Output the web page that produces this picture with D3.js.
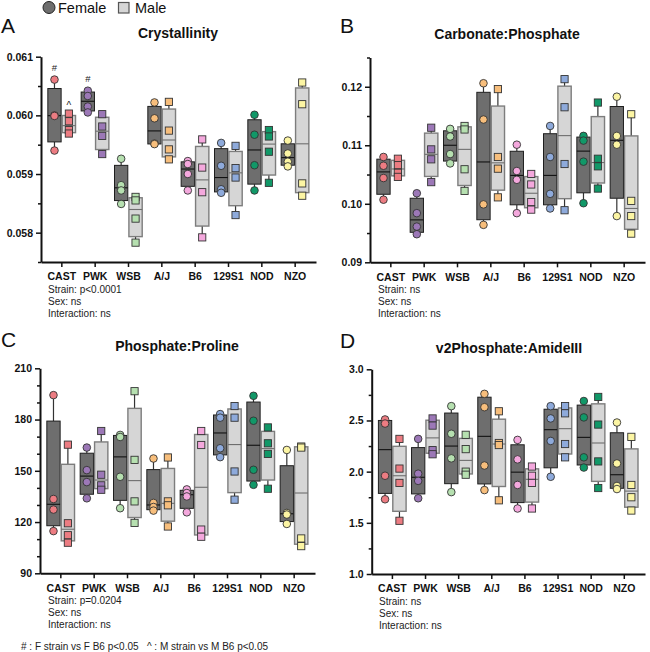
<!DOCTYPE html>
<html>
<head>
<meta charset="utf-8">
<script src="https://cdn.jsdelivr.net/npm/d3@7"></script>
<style>
  body { margin: 0; background: #fff; }
  svg { font-family: "Liberation Sans", Arial, sans-serif; }
</style>
</head>
<body>
<div id="chart"></div>
<script>
const strains = ['CAST', 'PWK', 'WSB', 'A/J', 'B6', '129S1', 'NOD', 'NZO'];
const strainColors = ['#ec7c82', '#9c78b7', '#b6e0b0', '#f7be7c', '#f4a8dd', '#8eaadb', '#119868', '#fcf5a3'];

// four animals per strain and sex
const crystF = [
  [0.06061, 0.06000, 0.05999, 0.05940], [0.06042, 0.06033, 0.06015, 0.06005],
  [0.05926, 0.05881, 0.05872, 0.05849], [0.06022, 0.05995, 0.05952, 0.05951],
  [0.05922, 0.05917, 0.05900, 0.05872], [0.05953, 0.05914, 0.05874, 0.05868],
  [0.06001, 0.05967, 0.05915, 0.05872], [0.05957, 0.05935, 0.05921, 0.05913]
];
const crystM = [
  [0.06003, 0.05990, 0.05975, 0.05969], [0.06002, 0.05981, 0.05965, 0.05934],
  [0.05861, 0.05855, 0.05824, 0.05783], [0.06023, 0.05974, 0.05942, 0.05925],
  [0.05959, 0.05911, 0.05869, 0.05792], [0.05948, 0.05910, 0.05894, 0.05830],
  [0.05975, 0.05964, 0.05938, 0.05885], [0.06056, 0.06019, 0.05884, 0.05863]
];
const carbF = [
  [0.1080, 0.1065, 0.1044, 0.1007], [0.1018, 0.0984, 0.0961, 0.0948],
  [0.1128, 0.1115, 0.1085, 0.1069], [0.1206, 0.1144, 0.0999, 0.0964],
  [0.1101, 0.1056, 0.1041, 0.0984], [0.1133, 0.1080, 0.1017, 0.0992],
  [0.1116, 0.1108, 0.1072, 0.1001], [0.1183, 0.1116, 0.1101, 0.0979]
];
const carbM = [
  [0.1077, 0.1066, 0.1053, 0.1046], [0.1130, 0.1093, 0.1076, 0.1037],
  [0.1133, 0.1127, 0.1059, 0.1022], [0.1196, 0.1080, 0.1060, 0.1011],
  [0.1051, 0.1033, 0.1003, 0.0990], [0.1213, 0.1165, 0.1068, 0.0989],
  [0.1173, 0.1077, 0.1064, 0.1026], [0.1153, 0.1005, 0.0979, 0.0949]
];
const prolF = [
  [194.3, 133.5, 127.3, 114.7], [163.6, 150.4, 143.4, 133.9],
  [171.0, 169.8, 146.5, 128.1], [157.2, 131.2, 128.8, 126.7],
  [139.1, 137.0, 135.0, 125.7], [183.2, 181.1, 163.2, 158.0],
  [193.9, 179.3, 150.6, 141.8], [162.2, 125.3, 124.4, 118.9]
];
const prolM = [
  [165.3, 119.3, 112.3, 107.9], [173.3, 147.7, 141.5, 138.9],
  [196.6, 156.4, 132.1, 119.5], [157.8, 132.1, 129.8, 117.4],
  [173.3, 165.1, 115.6, 111.4], [187.9, 181.1, 149.6, 133.1],
  [175.4, 166.1, 159.9, 139.5], [164.2, 163.6, 110.4, 105.9]
];
const amideF = [
  [2.51, 2.47, 1.96, 1.73], [2.32, 1.98, 1.91, 1.74],
  [2.64, 2.37, 2.13, 1.80], [2.76, 2.63, 2.06, 1.82],
  [2.31, 2.12, 1.87, 1.64], [2.64, 2.52, 2.30, 1.95],
  [2.69, 2.53, 2.14, 2.04], [2.48, 2.08, 1.86, 1.83]
];
const amideM = [
  [2.32, 2.03, 1.89, 1.52], [2.52, 2.45, 2.21, 2.17],
  [2.36, 2.22, 2.00, 1.97], [2.59, 2.28, 2.26, 1.72],
  [2.05, 1.96, 1.89, 1.64], [2.64, 2.57, 2.27, 2.14],
  [2.73, 2.46, 2.10, 1.84], [2.34, 1.87, 1.75, 1.62]
];

const crystTicks = [0.058, 0.059, 0.060, 0.061];
const carbTicks = [0.09, 0.10, 0.11, 0.12];
const prolTicks = [90, 120, 150, 180, 210];
const amideTicks = [1.0, 1.5, 2.0, 2.5, 3.0];

const statsA = ['Strain: p<0.0001', 'Sex: ns', 'Interaction: ns'];
const statsB = ['Strain: ns', 'Sex: ns', 'Interaction: ns'];
const statsC = ['Strain: p=0.0204', 'Sex: ns', 'Interaction: ns'];
const statsD = ['Strain: ns', 'Sex: ns', 'Interaction: ns'];

// significance marks in panel A: [strain index, sex, symbol]
const marksA = [[0, 'F', '#'], [0, 'M', '^'], [1, 'F', '#']];

const footnote = '# : F strain vs F B6 p<0.05   ^ : M strain vs M B6 p<0.05';

const W = 650, H = 652;
const svg = d3.select('#chart').append('svg').attr('width', W).attr('height', H);

// GraphPad style quartiles, (n+1)p
function quant(sorted, p) {
  const n = sorted.length;
  let pos = (n + 1) * p;
  if (pos < 1) pos = 1;
  if (pos > n) pos = n;
  const lo = Math.floor(pos), hi = Math.ceil(pos);
  return sorted[lo - 1] + (pos - lo) * (sorted[hi - 1] - sorted[lo - 1]);
}

function drawPanel(cfg) {
  const g = svg.append('g');

  const x = d3.scaleBand().domain(strains).range([cfg.x0, cfg.x1]).paddingOuter(0.125).paddingInner(0);
  const y = d3.scaleLinear().domain(cfg.yDomain).range([cfg.yBottom, cfg.yTop]);

  // letter + title
  g.append('text').attr('x', cfg.letterX).attr('y', cfg.letterY)
    .style('font-size', '21px').attr('fill', '#111').text(cfg.letter);
  g.append('text').attr('x', cfg.titleX).attr('y', cfg.titleY).attr('text-anchor', 'middle')
    .style('font-size', '14px').style('font-weight', 'bold').attr('fill', '#111').text(cfg.title);

  // minor ticks
  g.append('g')
    .attr('transform', `translate(${cfg.x0},0)`)
    .call(d3.axisLeft(y).tickValues(cfg.minor).tickSize(3).tickFormat(''))
    .call(a => a.select('.domain').remove())
    .call(a => a.selectAll('.tick line').attr('stroke', '#111').attr('stroke-width', 1.5));

  // y axis
  g.append('g')
    .attr('transform', `translate(${cfg.x0},0)`)
    .call(d3.axisLeft(y).tickValues(cfg.ticks).tickSize(5).tickSizeOuter(0).tickPadding(3).tickFormat(d3.format(cfg.fmt)))
    .call(a => a.select('.domain').attr('stroke', '#111').attr('stroke-width', 2))
    .call(a => a.selectAll('.tick line').attr('stroke', '#111').attr('stroke-width', 1.5))
    .call(a => a.selectAll('.tick text').attr('fill', '#111').style('font-size', '10.5px').style('font-weight', 'bold').style('font-family', '"Liberation Sans", Arial, sans-serif'));

  // x axis
  g.append('g')
    .attr('transform', `translate(0,${cfg.yBottom})`)
    .call(d3.axisBottom(x).tickSize(5).tickSizeOuter(0).tickPadding(6))
    .call(a => a.select('.domain').attr('stroke', '#111').attr('stroke-width', 2))
    .call(a => a.selectAll('.tick line').attr('stroke', '#111').attr('stroke-width', 1.5))
    .call(a => a.selectAll('.tick text').attr('fill', '#111').style('font-size', '10.5px').style('font-weight', 'bold').style('font-family', '"Liberation Sans", Arial, sans-serif'));

  const boxW = 13.3;
  const groups = [];
  strains.forEach((s, i) => {
    const c = x(s) + x.bandwidth() / 2;
    groups.push({ i, sex: 'F', cx: c - 0.7 - boxW / 2, vals: cfg.female[i] });
    groups.push({ i, sex: 'M', cx: c + 0.4 + boxW / 2, vals: cfg.male[i] });
  });

  groups.forEach(d => {
    const sorted = d.vals.slice().sort(d3.ascending);
    const q1 = quant(sorted, 0.25), med = quant(sorted, 0.5), q3 = quant(sorted, 0.75);
    const mn = sorted[0], mx = sorted[sorted.length - 1];
    const female = d.sex === 'F';
    const edge = female ? '#1e1e1e' : '#7d7d7d';

    // whiskers
    g.append('line').attr('x1', d.cx).attr('x2', d.cx).attr('y1', y(mx)).attr('y2', y(q3))
      .attr('stroke', '#333').attr('stroke-width', 1.2);
    g.append('line').attr('x1', d.cx).attr('x2', d.cx).attr('y1', y(q1)).attr('y2', y(mn))
      .attr('stroke', '#333').attr('stroke-width', 1.2);

    g.append('rect')
      .attr('x', d.cx - boxW / 2).attr('width', boxW)
      .attr('y', y(q3)).attr('height', y(q1) - y(q3))
      .attr('fill', female ? '#6e6e6e' : '#d6d6d6')
      .attr('stroke', edge).attr('stroke-width', female ? 1 : 1.4);

    g.append('line').attr('x1', d.cx - boxW / 2).attr('x2', d.cx + boxW / 2)
      .attr('y1', y(med)).attr('y2', y(med))
      .attr('stroke', female ? '#111' : '#6e6e6e').attr('stroke-width', 1.1);

    const col = strainColors[d.i];
    d.vals.forEach(v => {
      if (female) {
        g.append('circle').attr('cx', d.cx).attr('cy', y(v)).attr('r', 3.8)
          .attr('fill', col).attr('stroke', '#333').attr('stroke-width', 0.9);
      } else {
        g.append('rect').attr('x', d.cx - 3.6).attr('y', y(v) - 3.6).attr('width', 7.2).attr('height', 7.2)
          .attr('fill', col).attr('stroke', '#333').attr('stroke-width', 0.9);
      }
    });

    (cfg.marks || []).forEach(m => {
      if (m[0] === d.i && m[1] === d.sex) {
        const caret = m[2] === '^';
        g.append('text').attr('x', d.cx).attr('y', y(mx) - (caret ? 5 : 9))
          .attr('text-anchor', 'middle').style('font-size', caret ? '10px' : '9.5px').attr('fill', '#222').text(m[2]);
      }
    });
  });

  // stats lines
  cfg.stats.forEach((t, k) => {
    g.append('text').attr('x', cfg.statsX).attr('y', cfg.statsY + k * 12.2)
      .style('font-size', '10px').attr('fill', '#222').text(t);
  });
}

drawPanel({
  letter: 'A', letterX: 1, letterY: 33, title: 'Crystallinity', titleX: 178, titleY: 38,
  x0: 41, x1: 316, yDomain: [0.0575, 0.061], yBottom: 262, yTop: 56.7,
  ticks: crystTicks, minor: [0.0575, 0.0585, 0.0595, 0.0605], fmt: '.3f',
  female: crystF, male: crystM, marks: marksA, stats: statsA, statsX: 48, statsY: 292.5
});
drawPanel({
  letter: 'B', letterX: 340, letterY: 33, title: 'Carbonate:Phosphate', titleX: 507, titleY: 39,
  x0: 370, x1: 645, yDomain: [0.09, 0.125], yBottom: 262.3, yTop: 57.5,
  ticks: carbTicks, minor: [0.095, 0.105, 0.115, 0.125], fmt: '.2f',
  female: carbF, male: carbM, stats: statsB, statsX: 378, statsY: 292.5
});
drawPanel({
  letter: 'C', letterX: 1, letterY: 347, title: 'Phosphate:Proline', titleX: 177, titleY: 351,
  x0: 40, x1: 315, yDomain: [90, 210], yBottom: 573.3, yTop: 368.3,
  ticks: prolTicks, minor: d3.range(100, 210, 10).filter(v => v % 30 !== 0), fmt: 'd',
  female: prolF, male: prolM, stats: statsC, statsX: 48, statsY: 603.5
});
drawPanel({
  letter: 'D', letterX: 340, letterY: 348, title: 'v2Phosphate:AmideIII', titleX: 509, titleY: 353,
  x0: 371.7, x1: 645, yDomain: [1.0, 3.0], yBottom: 574, yTop: 369.3,
  ticks: amideTicks, minor: [1.25, 1.75, 2.25, 2.75], fmt: '.1f',
  female: amideF, male: amideM, stats: statsD, statsX: 379, statsY: 604.5
});

// legend
const leg = svg.append('g');
leg.append('circle').attr('cx', 49).attr('cy', 7.5).attr('r', 6)
  .attr('fill', '#6e6e6e').attr('stroke', '#222').attr('stroke-width', 1);
leg.append('text').attr('x', 58).attr('y', 13).style('font-size', '14.5px').attr('fill', '#111').text('Female');
leg.append('rect').attr('x', 118.5).attr('y', 2.5).attr('width', 10.5).attr('height', 10.5)
  .attr('fill', '#d6d6d6').attr('stroke', '#555').attr('stroke-width', 1.2);
leg.append('text').attr('x', 135).attr('y', 13).style('font-size', '14.5px').attr('fill', '#111').text('Male');

svg.append('text').attr('x', 21).attr('y', 650).style('font-size', '10px').attr('fill', '#222')
  .attr('xml:space', 'preserve').style('white-space', 'pre').text(footnote);
</script>
</body>
</html>
